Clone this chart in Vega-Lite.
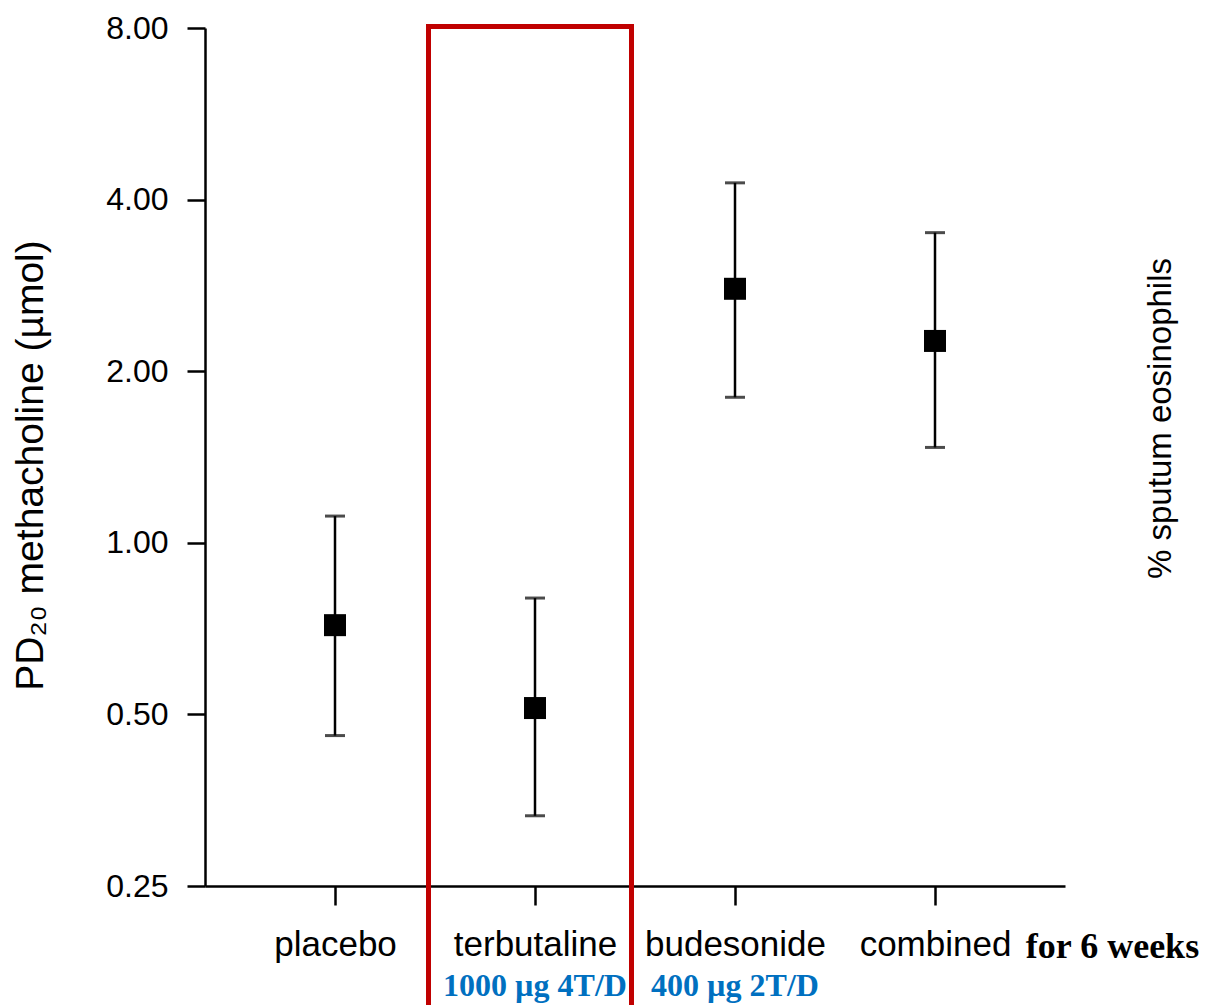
{
  "$schema": "https://vega.github.io/schema/vega-lite/v6.json",
  "width": 860,
  "height": 858,
  "autosize": {"type": "none"},
  "padding": {"left": 205, "top": 28, "right": 145, "bottom": 119},
  "background": "white",
  "config": {"view": {"stroke": null}, "font": "Liberation Sans"},
  "datasets": {
    "pd20": [
      {"treatment": "placebo", "mean": 0.717, "lo": 0.459, "hi": 1.114},
      {"treatment": "terbutaline", "mean": 0.513, "lo": 0.332, "hi": 0.800},
      {"treatment": "budesonide", "mean": 2.79, "lo": 1.80, "hi": 4.28},
      {"treatment": "combined", "mean": 2.26, "lo": 1.47, "hi": 3.50}
    ],
    "box": [
      {"treatment": "terbutaline", "top": 8.05, "bottom": 0.15}
    ],
    "notes": [
      {"treatment": "terbutaline", "note": "1000 µg 4T/D", "pos": 0.16},
      {"treatment": "budesonide", "note": "400 µg 2T/D", "pos": 0.16}
    ]
  },
  "resolve": {"axis": {"y": "independent"}},
  "layer": [
    {
      "data": {"name": "pd20"},
      "mark": {"type": "rule", "color": "black", "strokeWidth": 2.5},
      "encoding": {
        "x": {
          "field": "treatment", "type": "nominal",
          "scale": {"type": "point", "padding": 0.65, "domain": ["placebo", "terbutaline", "budesonide", "combined"]},
          "axis": {
            "domain": true, "domainColor": "black", "domainWidth": 2.5,
            "ticks": true, "tickColor": "black", "tickWidth": 2.5, "tickSize": 19,
            "labels": true, "labelAngle": 0, "labelFont": "Liberation Sans", "labelFontSize": 35, "labelColor": "black", "labelPadding": 22, "labelLimit": 0,
            "grid": false,
            "title": "for 6 weeks", "titleFont": "Liberation Serif", "titleFontWeight": "bold", "titleFontSize": 36, "titleColor": "black",
            "titleX": 907, "titleY": 71, "titleAlign": "center", "titleBaseline": "alphabetic"
          }
        },
        "y": {
          "field": "lo", "type": "quantitative",
          "scale": {"type": "log", "base": 2, "domain": [0.25, 8], "nice": false, "zero": false},
          "axis": {
            "orient": "left",
            "values": [0.25, 0.5, 1, 2, 4, 8], "format": ".2f",
            "domain": true, "domainColor": "black", "domainWidth": 2.5,
            "ticks": true, "tickColor": "black", "tickWidth": 2.5, "tickSize": 18,
            "labelFont": "Liberation Sans", "labelFontSize": 32, "labelColor": "black", "labelPadding": 19,
            "grid": false,
            "title": "PD₂₀ methacholine (µmol)", "titleFont": "Liberation Sans", "titleFontSize": 39, "titleFontWeight": "normal", "titleColor": "black",
            "titleAngle": 270, "titleX": -175, "titleY": 437, "titleAlign": "center", "titleBaseline": "middle"
          }
        },
        "y2": {"field": "hi"}
      }
    },
    {
      "data": {"name": "pd20"},
      "mark": {"type": "tick", "color": "black", "thickness": 3, "size": 20},
      "encoding": {
        "x": {"field": "treatment", "type": "nominal", "scale": {"type": "point", "padding": 0.65}},
        "y": {"field": "lo", "type": "quantitative", "scale": {"type": "log", "base": 2}, "axis": null}
      }
    },
    {
      "data": {"name": "pd20"},
      "mark": {"type": "tick", "color": "black", "thickness": 3, "size": 20},
      "encoding": {
        "x": {"field": "treatment", "type": "nominal", "scale": {"type": "point", "padding": 0.65}},
        "y": {"field": "hi", "type": "quantitative", "scale": {"type": "log", "base": 2}, "axis": null}
      }
    },
    {
      "data": {"name": "pd20"},
      "mark": {"type": "point", "shape": "square", "filled": true, "color": "black", "size": 484, "opacity": 1, "strokeWidth": 0},
      "encoding": {
        "x": {"field": "treatment", "type": "nominal", "scale": {"type": "point", "padding": 0.65}},
        "y": {"field": "mean", "type": "quantitative", "scale": {"type": "log", "base": 2}, "axis": null}
      }
    },
    {
      "data": {"name": "box"},
      "mark": {"type": "bar", "width": 203, "fillOpacity": 0, "fill": "white", "stroke": "#C00000", "strokeWidth": 5, "xOffset": -5, "clip": false},
      "encoding": {
        "x": {"field": "treatment", "type": "nominal", "scale": {"type": "point", "padding": 0.65}},
        "y": {
          "field": "top", "type": "quantitative", "scale": {"type": "log", "base": 2},
          "axis": {
            "orient": "right", "domain": false, "ticks": false, "labels": false, "grid": false,
            "title": "% sputum eosinophils", "titleFont": "Liberation Sans", "titleFontSize": 33, "titleFontWeight": "normal", "titleColor": "black",
            "titleAngle": 270, "titleX": 95, "titleY": 390, "titleAlign": "center", "titleBaseline": "middle"
          }
        },
        "y2": {"field": "bottom"}
      }
    },
    {
      "data": {"name": "notes"},
      "mark": {"type": "text", "font": "Liberation Serif", "fontWeight": "bold", "fontSize": 32, "color": "#0070C0", "align": "center", "baseline": "alphabetic", "clip": false},
      "encoding": {
        "x": {"field": "treatment", "type": "nominal", "scale": {"type": "point", "padding": 0.65}},
        "y": {"field": "pos", "type": "quantitative", "scale": {"type": "log", "base": 2}, "axis": null},
        "text": {"field": "note"}
      }
    }
  ]
}
